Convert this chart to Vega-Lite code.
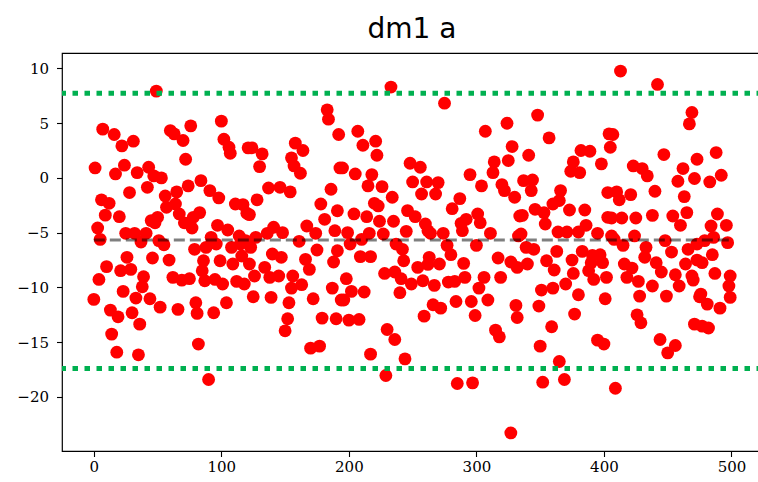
{
  "$schema": "https://vega.github.io/schema/vega-lite/v6.json",
  "width": 700,
  "height": 398,
  "autosize": {"type": "none"},
  "padding": {"left": 62, "top": 53, "right": 0, "bottom": 31},
  "background": "white",
  "title": {"text": "dm1 a", "font": "DejaVu Sans", "fontSize": 28, "fontWeight": "normal", "color": "black", "offset": 9},
  "config": {
    "view": {"stroke": "black", "strokeWidth": 1.2},
    "axis": {
      "grid": false,
      "domain": false,
      "title": null,
      "tickColor": "black",
      "tickSize": 5.5,
      "tickWidth": 1.1,
      "labelFont": "DejaVu Serif",
      "labelFontSize": 15,
      "labelColor": "black"
    }
  },
  "datasets": {
    "samples": [
      {"index": 49, "value": 7.92}, {"index": 7, "value": 4.45}, {"index": 16, "value": 3.96}, {"index": 22, "value": 2.92},
      {"index": 31, "value": 3.35}, {"index": 1, "value": 0.91}, {"index": 17, "value": 0.36}, {"index": 24, "value": 1.16},
      {"index": 34, "value": 0.48}, {"index": 43, "value": 0.97}, {"index": 47, "value": 0.18}, {"index": 42, "value": -0.86},
      {"index": 28, "value": -1.34}, {"index": 6, "value": -2.0}, {"index": 12, "value": -2.32}, {"index": 9, "value": -3.4},
      {"index": 20, "value": -3.54}, {"index": 3, "value": -4.57}, {"index": 5, "value": -5.61}, {"index": 25, "value": -5.06},
      {"index": 32, "value": -5.06}, {"index": 37, "value": -5.85}, {"index": 41, "value": -5.06}, {"index": 45, "value": -3.9},
      {"index": 50, "value": -3.6}, {"index": 51, "value": -5.73}, {"index": 26, "value": -7.25}, {"index": 10, "value": -8.1},
      {"index": 21, "value": -8.47}, {"index": 29, "value": -8.35}, {"index": 46, "value": -7.31}, {"index": 4, "value": -9.27},
      {"index": 39, "value": -9.02}, {"index": 38, "value": -9.94}, {"index": 23, "value": -10.36}, {"index": 0, "value": -11.09},
      {"index": 33, "value": -10.97}, {"index": 44, "value": -11.03}, {"index": 13, "value": -12.07}, {"index": 19, "value": -12.68},
      {"index": 30, "value": -12.31}, {"index": 36, "value": -13.35}, {"index": 14, "value": -14.26}, {"index": 18, "value": -15.91},
      {"index": 35, "value": -16.15}, {"index": 52, "value": -11.8},

      {"index": 60, "value": 4.32}, {"index": 63, "value": 4.02}, {"index": 76, "value": 4.75}, {"index": 70, "value": 3.41},
      {"index": 72, "value": 1.7}, {"index": 100, "value": 5.18}, {"index": 102, "value": 3.53}, {"index": 106, "value": 2.8},
      {"index": 107, "value": 2.25}, {"index": 121, "value": 2.74}, {"index": 53, "value": 0.0}, {"index": 56, "value": -1.65},
      {"index": 65, "value": -1.28}, {"index": 74, "value": -0.73}, {"index": 84, "value": -0.25}, {"index": 91, "value": -1.16},
      {"index": 98, "value": -1.83}, {"index": 111, "value": -2.38}, {"index": 120, "value": -3.23}, {"index": 57, "value": -2.68},
      {"index": 64, "value": -2.38}, {"index": 67, "value": -3.29}, {"index": 83, "value": -3.17}, {"index": 78, "value": -3.6},
      {"index": 48, "value": -4.1}, {"index": 71, "value": -4.1}, {"index": 77, "value": -4.57}, {"index": 97, "value": -4.33},
      {"index": 105, "value": -4.76}, {"index": 114, "value": -5.3}, {"index": 92, "value": -5.43}, {"index": 55, "value": -6.1},
      {"index": 79, "value": -6.52}, {"index": 88, "value": -6.34}, {"index": 96, "value": -6.04}, {"index": 108, "value": -6.34},
      {"index": 115, "value": -6.04}, {"index": 119, "value": -5.73}, {"index": 59, "value": -7.5}, {"index": 86, "value": -7.56},
      {"index": 99, "value": -7.56}, {"index": 109, "value": -7.86}, {"index": 116, "value": -7.13}, {"index": 122, "value": -7.86},
      {"index": 85, "value": -8.47}, {"index": 62, "value": -9.08}, {"index": 69, "value": -9.33}, {"index": 75, "value": -9.2},
      {"index": 95, "value": -9.27}, {"index": 87, "value": -9.39}, {"index": 101, "value": -9.69}, {"index": 112, "value": -9.45},
      {"index": 118, "value": -9.69}, {"index": 66, "value": -12.0}, {"index": 80, "value": -11.4}, {"index": 81, "value": -12.37},
      {"index": 94, "value": -12.31}, {"index": 104, "value": -11.4}, {"index": 82, "value": -15.17}, {"index": 90, "value": -18.4},

      {"index": 183, "value": 6.21}, {"index": 184, "value": 5.36}, {"index": 192, "value": 3.96}, {"index": 124, "value": 2.74},
      {"index": 132, "value": 2.19}, {"index": 130, "value": 1.03}, {"index": 158, "value": 3.17}, {"index": 164, "value": 2.5},
      {"index": 155, "value": 1.83}, {"index": 157, "value": 1.09}, {"index": 162, "value": 0.42}, {"index": 193, "value": 0.91},
      {"index": 186, "value": -1.04}, {"index": 137, "value": -0.92}, {"index": 146, "value": -0.86}, {"index": 154, "value": -1.28},
      {"index": 128, "value": -2.0}, {"index": 117, "value": -2.44}, {"index": 122, "value": -3.35}, {"index": 178, "value": -2.38},
      {"index": 181, "value": -3.78}, {"index": 191, "value": -3.0}, {"index": 141, "value": -4.51}, {"index": 148, "value": -5.0},
      {"index": 167, "value": -4.39}, {"index": 174, "value": -5.06}, {"index": 189, "value": -4.82}, {"index": 127, "value": -5.43},
      {"index": 136, "value": -5.06}, {"index": 161, "value": -5.79}, {"index": 123, "value": -6.34}, {"index": 140, "value": -6.95},
      {"index": 147, "value": -7.25}, {"index": 166, "value": -7.44}, {"index": 175, "value": -6.58}, {"index": 169, "value": -8.35},
      {"index": 188, "value": -7.68}, {"index": 126, "value": -8.96}, {"index": 134, "value": -8.17}, {"index": 138, "value": -9.08},
      {"index": 145, "value": -8.96}, {"index": 156, "value": -8.96}, {"index": 163, "value": -9.75}, {"index": 155, "value": -10.06},
      {"index": 125, "value": -10.85}, {"index": 139, "value": -10.91}, {"index": 153, "value": -11.4}, {"index": 172, "value": -11.03},
      {"index": 187, "value": -10.06}, {"index": 194, "value": -11.15}, {"index": 152, "value": -12.86}, {"index": 150, "value": -13.96},
      {"index": 179, "value": -12.8}, {"index": 190, "value": -12.86}, {"index": 170, "value": -15.54}, {"index": 177, "value": -15.36},

      {"index": 233, "value": 8.29}, {"index": 207, "value": 4.26}, {"index": 211, "value": 2.98}, {"index": 221, "value": 3.35},
      {"index": 222, "value": 2.07}, {"index": 248, "value": 1.34}, {"index": 256, "value": 0.97}, {"index": 195, "value": 0.91},
      {"index": 205, "value": 0.36}, {"index": 218, "value": 0.3}, {"index": 215, "value": -0.73}, {"index": 226, "value": -0.8},
      {"index": 234, "value": -1.77}, {"index": 250, "value": -0.37}, {"index": 257, "value": -1.47}, {"index": 261, "value": -0.37},
      {"index": 204, "value": -3.29}, {"index": 214, "value": -3.54}, {"index": 220, "value": -2.32}, {"index": 223, "value": -2.56},
      {"index": 224, "value": -3.96}, {"index": 235, "value": -3.96}, {"index": 246, "value": -2.99}, {"index": 252, "value": -3.54},
      {"index": 260, "value": -4.21}, {"index": 199, "value": -5.0}, {"index": 216, "value": -5.06}, {"index": 227, "value": -5.12},
      {"index": 245, "value": -4.88}, {"index": 191, "value": -6.65}, {"index": 201, "value": -6.04}, {"index": 210, "value": -5.61},
      {"index": 237, "value": -6.04}, {"index": 242, "value": -6.52}, {"index": 262, "value": -4.82}, {"index": 209, "value": -7.19},
      {"index": 217, "value": -7.19}, {"index": 243, "value": -7.56}, {"index": 254, "value": -8.17}, {"index": 263, "value": -7.25},
      {"index": 228, "value": -8.72}, {"index": 236, "value": -8.59}, {"index": 198, "value": -9.2}, {"index": 241, "value": -9.2},
      {"index": 249, "value": -9.69}, {"index": 258, "value": -9.39}, {"index": 202, "value": -10.36}, {"index": 212, "value": -10.42},
      {"index": 240, "value": -10.48}, {"index": 196, "value": -11.15}, {"index": 200, "value": -12.98}, {"index": 208, "value": -12.92},
      {"index": 230, "value": -13.84}, {"index": 236, "value": -14.75}, {"index": 217, "value": -16.09}, {"index": 244, "value": -16.52},
      {"index": 229, "value": -18.04}, {"index": 259, "value": -12.62},

      {"index": 275, "value": 6.82}, {"index": 307, "value": 4.26}, {"index": 324, "value": 4.99}, {"index": 328, "value": 2.86},
      {"index": 314, "value": 1.46}, {"index": 325, "value": 1.58}, {"index": 313, "value": 0.48}, {"index": 295, "value": 0.3},
      {"index": 270, "value": -0.43}, {"index": 268, "value": -1.47}, {"index": 304, "value": -0.73}, {"index": 320, "value": -0.61},
      {"index": 322, "value": -1.16}, {"index": 330, "value": -1.77}, {"index": 287, "value": -1.89}, {"index": 281, "value": -2.81},
      {"index": 292, "value": -3.78}, {"index": 301, "value": -3.29}, {"index": 334, "value": -3.48}, {"index": 288, "value": -4.15},
      {"index": 303, "value": -4.09}, {"index": 264, "value": -5.06}, {"index": 274, "value": -5.06}, {"index": 289, "value": -4.82},
      {"index": 300, "value": -6.16}, {"index": 311, "value": -5.06}, {"index": 333, "value": -5.3}, {"index": 277, "value": -6.16},
      {"index": 280, "value": -7.01}, {"index": 262, "value": -7.9}, {"index": 271, "value": -7.86}, {"index": 290, "value": -7.8},
      {"index": 317, "value": -7.31}, {"index": 327, "value": -7.68}, {"index": 332, "value": -8.17}, {"index": 267, "value": -9.81},
      {"index": 278, "value": -9.51}, {"index": 283, "value": -9.45}, {"index": 291, "value": -9.08}, {"index": 306, "value": -9.08},
      {"index": 319, "value": -9.08}, {"index": 302, "value": -10.06}, {"index": 284, "value": -11.28}, {"index": 296, "value": -11.28},
      {"index": 309, "value": -11.15}, {"index": 266, "value": -11.58}, {"index": 272, "value": -11.89}, {"index": 299, "value": -12.56},
      {"index": 331, "value": -11.64}, {"index": 332, "value": -12.74}, {"index": 315, "value": -13.9}, {"index": 318, "value": -14.51},
      {"index": 285, "value": -18.77}, {"index": 297, "value": -18.71}, {"index": 327, "value": -23.28},

      {"index": 348, "value": 5.73}, {"index": 357, "value": 3.65}, {"index": 341, "value": 2.07}, {"index": 382, "value": 2.5},
      {"index": 389, "value": 2.43}, {"index": 398, "value": 1.28}, {"index": 404, "value": 4.02}, {"index": 405, "value": 2.8},
      {"index": 376, "value": 1.46}, {"index": 374, "value": 0.61}, {"index": 381, "value": 0.48}, {"index": 337, "value": -0.25},
      {"index": 344, "value": -0.19}, {"index": 343, "value": -1.16}, {"index": 366, "value": -1.16}, {"index": 403, "value": -1.34},
      {"index": 336, "value": -3.42}, {"index": 346, "value": -2.87}, {"index": 353, "value": -3.17}, {"index": 354, "value": -4.21},
      {"index": 360, "value": -2.38}, {"index": 365, "value": -2.07}, {"index": 373, "value": -2.93}, {"index": 385, "value": -2.93},
      {"index": 403, "value": -3.6}, {"index": 335, "value": -5.12}, {"index": 364, "value": -4.94}, {"index": 371, "value": -4.94},
      {"index": 380, "value": -4.94}, {"index": 386, "value": -4.33}, {"index": 395, "value": -5.06}, {"index": 406, "value": -5.3},
      {"index": 339, "value": -6.34}, {"index": 345, "value": -6.52}, {"index": 363, "value": -6.71}, {"index": 383, "value": -6.71},
      {"index": 391, "value": -7.07}, {"index": 397, "value": -7.01}, {"index": 340, "value": -7.86}, {"index": 355, "value": -7.56},
      {"index": 361, "value": -8.41}, {"index": 375, "value": -7.5}, {"index": 390, "value": -7.74}, {"index": 399, "value": -7.74},
      {"index": 376, "value": -8.72}, {"index": 388, "value": -8.47}, {"index": 392, "value": -9.27}, {"index": 402, "value": -9.08},
      {"index": 351, "value": -10.24}, {"index": 360, "value": -10.06}, {"index": 370, "value": -9.69}, {"index": 380, "value": -10.67},
      {"index": 401, "value": -11.03}, {"index": 349, "value": -11.7}, {"index": 377, "value": -12.43}, {"index": 359, "value": -13.59},
      {"index": 395, "value": -14.81}, {"index": 400, "value": -15.17}, {"index": 350, "value": -15.36}, {"index": 365, "value": -16.76},
      {"index": 352, "value": -18.65}, {"index": 369, "value": -18.4},

      {"index": 413, "value": 9.75}, {"index": 442, "value": 8.53}, {"index": 469, "value": 5.97}, {"index": 467, "value": 4.93},
      {"index": 407, "value": 3.96}, {"index": 447, "value": 2.13}, {"index": 473, "value": 1.7}, {"index": 423, "value": 1.09},
      {"index": 430, "value": 0.85}, {"index": 434, "value": 0.18}, {"index": 462, "value": 0.85}, {"index": 458, "value": -0.31},
      {"index": 471, "value": -0.06}, {"index": 410, "value": -1.28}, {"index": 412, "value": -2.0}, {"index": 421, "value": -1.53},
      {"index": 440, "value": -1.22}, {"index": 463, "value": -1.71}, {"index": 406, "value": -3.66}, {"index": 414, "value": -3.66},
      {"index": 425, "value": -3.66}, {"index": 438, "value": -3.42}, {"index": 454, "value": -3.48}, {"index": 460, "value": -4.33},
      {"index": 465, "value": -3.17}, {"index": 408, "value": -5.61}, {"index": 415, "value": -6.16}, {"index": 424, "value": -5.3},
      {"index": 433, "value": -6.34}, {"index": 448, "value": -5.73}, {"index": 453, "value": -6.77}, {"index": 466, "value": -6.52},
      {"index": 473, "value": -6.04}, {"index": 416, "value": -7.86}, {"index": 422, "value": -8.23}, {"index": 432, "value": -7.25},
      {"index": 441, "value": -7.74}, {"index": 445, "value": -8.59}, {"index": 418, "value": -9.08}, {"index": 427, "value": -9.45},
      {"index": 438, "value": -9.87}, {"index": 456, "value": -8.84}, {"index": 459, "value": -9.87}, {"index": 469, "value": -8.96},
      {"index": 428, "value": -10.79}, {"index": 449, "value": -10.79}, {"index": 475, "value": -10.85}, {"index": 426, "value": -12.5},
      {"index": 429, "value": -13.23}, {"index": 471, "value": -13.35}, {"index": 444, "value": -14.75}, {"index": 456, "value": -15.3},
      {"index": 450, "value": -15.97}, {"index": 409, "value": -19.2},

      {"index": 488, "value": 2.31}, {"index": 492, "value": 0.24}, {"index": 483, "value": -0.37}, {"index": 489, "value": -3.3},
      {"index": 496, "value": -4.33}, {"index": 484, "value": -4.39}, {"index": 497, "value": -5.91}, {"index": 486, "value": -5.43},
      {"index": 479, "value": -5.73}, {"index": 485, "value": -7.01}, {"index": 473, "value": -7.5}, {"index": 477, "value": -7.74},
      {"index": 464, "value": -7.86}, {"index": 470, "value": -9.33}, {"index": 487, "value": -8.72}, {"index": 499, "value": -8.96},
      {"index": 498, "value": -9.87}, {"index": 499, "value": -10.91}, {"index": 476, "value": -10.61}, {"index": 481, "value": -11.52},
      {"index": 491, "value": -11.89}, {"index": 477, "value": -13.53}, {"index": 482, "value": -13.7}
    ],
    "bounds": [{"level": 7.73}, {"level": -17.4}],
    "mean": [{"start": 0, "end": 499, "level": -5.67}]
  },
  "layer": [
    {
      "data": {"name": "samples"},
      "mark": {"type": "point", "filled": true, "size": 165, "color": "#ff0000", "opacity": 1, "strokeWidth": 0},
      "encoding": {
        "x": {"field": "index", "type": "quantitative",
              "scale": {"domain": [-24.95, 523.95], "nice": false, "zero": false},
              "axis": {"values": [0, 100, 200, 300, 400, 500], "format": "d", "labelPadding": 3}},
        "y": {"field": "value", "type": "quantitative",
              "scale": {"domain": [-24.93, 11.4], "nice": false, "zero": false},
              "axis": {"values": [-20, -15, -10, -5, 0, 5, 10], "format": "d", "labelPadding": 8}}
      }
    },
    {
      "data": {"name": "mean"},
      "mark": {"type": "rule", "color": "black", "opacity": 0.5, "strokeWidth": 3, "strokeDash": [11, 5]},
      "encoding": {
        "x": {"field": "start", "type": "quantitative"},
        "x2": {"field": "end"},
        "y": {"field": "level", "type": "quantitative"}
      }
    },
    {
      "data": {"name": "bounds"},
      "mark": {"type": "rule", "color": "#00b050", "strokeWidth": 5, "strokeDash": [5.5, 6.5], "strokeCap": "butt"},
      "encoding": {
        "y": {"field": "level", "type": "quantitative"}
      }
    }
  ]
}
